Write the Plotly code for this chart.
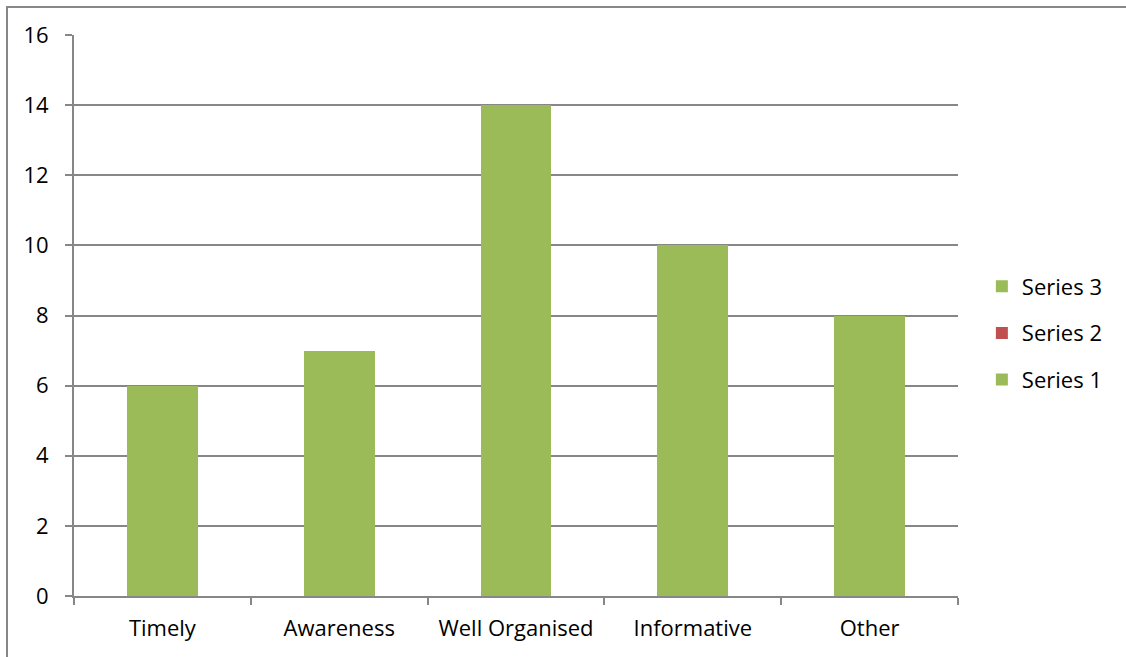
import plotly.graph_objects as go

categories = ["Timely", "Awareness", "Well Organised", "Informative", "Other"]
series_1 = [6, 7, 14, 10, 8]
series_2 = [0, 0, 0, 0, 0]
series_3 = [0, 0, 0, 0, 0]

GREEN = "#9BBB59"
RED = "#C0504D"
GRID = "#878787"
FONT = "Open Sans, Carlito, Calibri, sans-serif"

fig = go.Figure()
for rank, (name, vals, color) in enumerate([("Series 1", series_1, GREEN),
                                            ("Series 2", series_2, RED),
                                            ("Series 3", series_3, GREEN)]):
    fig.add_trace(go.Bar(x=categories, y=vals, name=name, marker_color=color,
                         marker_line_width=0, legendgroup=name,
                         legendrank=1000 - rank))

fig.update_layout(
    barmode="stack",
    bargap=0.6,
    width=1126, height=657,
    margin=dict(l=74, r=168, t=35, b=61),
    plot_bgcolor="white", paper_bgcolor="white",
    font=dict(family=FONT, size=22, color="black"),
    legend=dict(traceorder="grouped", tracegroupgap=15,
                x=1.027, xanchor="left", y=(596 - 333) / 561, yanchor="middle",
                font=dict(size=22), itemwidth=30),
    showlegend=True,
)
fig.update_xaxes(
    type="category", tickson="boundaries", ticks="outside", ticklen=7,
    tickwidth=2, tickcolor=GRID, showline=True, linecolor=GRID, linewidth=2,
    showgrid=False, ticklabelstandoff=12,
)
fig.update_yaxes(
    range=[0, 16], dtick=2, ticks="outside", ticklen=7, tickwidth=2,
    tickcolor=GRID, showline=True, linecolor=GRID, linewidth=2,
    showgrid=True, gridcolor=GRID, gridwidth=2, zeroline=False,
    ticklabelstandoff=12,
)
# outer chart frame
fig.add_shape(type="rect", xref="paper", yref="paper",
              x0=-67 / 884, x1=1.4, y0=-0.3, y1=1 + 28 / 561,
              line=dict(color=GRID, width=2), fillcolor="rgba(0,0,0,0)")

fig.write_html("out.html")
